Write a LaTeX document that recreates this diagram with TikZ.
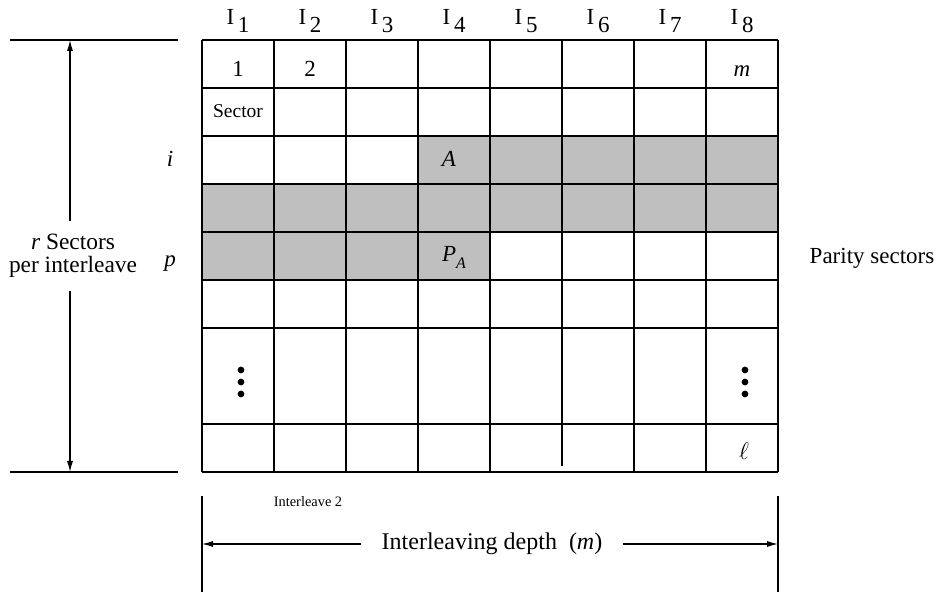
\documentclass[tikz,border=0pt]{standalone}
\usepackage{fontspec}
\setmainfont{Liberation Serif}
\usetikzlibrary{arrows.meta}

\begin{document}
\begin{tikzpicture}[x=0.5pt,y=-0.5pt,
  gridline/.style={line width=0.9pt},
  dimline/.style={line width=0.55pt},
  dimarrow/.style={line width=0.55pt,-{Latex[length=5.5pt,width=3pt]}},
  txt/.style={font=\fontsize{11.5}{13}\selectfont,anchor=base,inner sep=0pt}]
\useasboundingbox (0,0) rectangle (943,597);
% shaded sectors
\fill[black!25] (418,136) rectangle (778,184);
\fill[black!25] (202,184) rectangle (778,232);
\fill[black!25] (202,232) rectangle (490,280);
% the array
\foreach \y in {40,88,136,184,232,280,328,424,472}
  \draw[gridline] (202,\y) -- (778,\y);
\foreach \x in {202,274,346,418,490,634,706,778}
  \draw[gridline] (\x,40) -- (\x,472);
\draw[gridline] (562,40) -- (562,466);
% interleave labels
\foreach \i in {1,...,8}
  \node[txt] (I\i) at (166+72*\i,25) {I\,\raisebox{-0.33em}{\i}};
% cell contents
\node[txt] (one) at (238,77) {1};
\node[txt] (two) at (310,77) {2};
\node[txt] (mcell) at (742,77) {\textit{m}};
\node[txt,font=\fontsize{9.75}{11}\selectfont] (sector) at (238,118) {Sector};
\node[txt] (A) at (449,167) {\textit{A}};
\node[txt] (PA) at (454,262) {\textit{P}\raisebox{-0.3em}{\fontsize{8}{9}\selectfont\textit{A}}};
\node[txt] (ell) at (744,460) {$\ell$};
\foreach \x in {241,745}
  \foreach \y in {370,382,394}
    \fill (\x,\y) circle (3.4);
% row labels
\node[txt] (irow) at (170,167) {\textit{i}};
\node[txt] (prow) at (170,267) {\textit{p}};
\node[txt] (parity) at (872,264) {Parity sectors};
% r sectors per interleave
\draw[dimline] (10,40) -- (178,40);
\draw[dimline] (10,472) -- (178,472);
\coordinate (rtop) at (70,40);
\coordinate (rbot) at (70,472);
\node[font=\fontsize{11.7}{11.5}\selectfont,align=center,inner xsep=0pt,inner ysep=6.5pt] (rlbl) at (73,256) {\textit{r} Sectors\\per interleave};
\draw[dimarrow] (rlbl.north -| rtop) -- (rtop);
\draw[dimarrow] (rlbl.south -| rbot) -- (rbot);
% interleaving depth
\draw[dimline] (202,496) -- (202,592) coordinate[pos=0.5] (dleft);
\draw[dimline] (778,496) -- (778,592) coordinate[pos=0.5] (dright);
\node[txt,font=\fontsize{7.2}{8}\selectfont] (ilv) at (308,507) {Interleave 2};
\node[font=\fontsize{12}{14}\selectfont,inner xsep=10pt] (depth) at (492,544) {Interleaving depth\ \ (\textit{m})};
\draw[dimarrow] (depth.west) -- (depth.west -| dleft);
\draw[dimarrow] (depth.east) -- (depth.east -| dright);
\end{tikzpicture}
\end{document}
